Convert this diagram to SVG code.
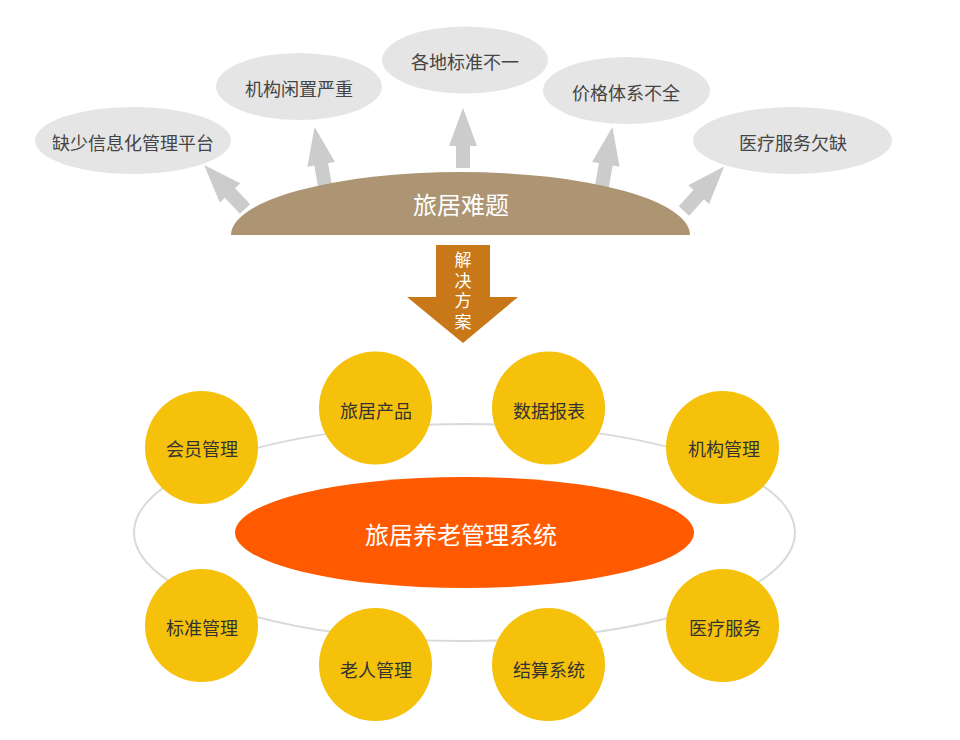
<svg xmlns="http://www.w3.org/2000/svg" width="960" height="740" viewBox="0 0 960 740">
<style>
  text { font-family: "Noto Sans CJK SC", "Liberation Sans", sans-serif; text-anchor: middle; dominant-baseline: central; }
  .bubble { fill: #e5e5e5; }
  .btext { font-size: 18px; fill: #444444; }
  .circ { fill: #f5c10a; }
  .ctext { font-size: 18px; fill: #333333; }
  .arr { fill: #cccccc; }
</style>
<defs>
  <polygon id="upArrow" points="-7,0 -7,-22 -14,-22 0,-60 14,-22 7,-22 7,0"/>
</defs>
<rect width="960" height="740" fill="#ffffff"/>

<g id="connectors">
  <use href="#upArrow" class="arr" transform="translate(245,209) rotate(-43)"/>
  <use href="#upArrow" class="arr" transform="translate(325,186) rotate(-10)"/>
  <use href="#upArrow" class="arr" transform="translate(463,168)"/>
  <use href="#upArrow" class="arr" transform="translate(602,186) rotate(10)"/>
  <use href="#upArrow" class="arr" transform="translate(684,211) rotate(42)"/>
  <g id="solution-arrow">
    <polygon points="436,245 490,245 490,297 518,297 463,343 407,297 436,297" fill="#c87818"/>
    <text x="463" y="292.5" font-size="17" fill="#ffffff" writing-mode="vertical-rl" letter-spacing="3.5">解决方案</text>
  </g>
  <ellipse cx="464.5" cy="532.5" rx="330.5" ry="108.5" fill="none" stroke="#d9d9d9" stroke-width="2"/>
</g>

<g id="problem-1"><ellipse class="bubble" cx="133" cy="140.5" rx="98" ry="33.5"/><text class="btext" x="133" y="142">缺少信息化管理平台</text></g>
<g id="problem-2"><ellipse class="bubble" cx="299" cy="86.5" rx="83" ry="33.5"/><text class="btext" x="299" y="88">机构闲置严重</text></g>
<g id="problem-3"><ellipse class="bubble" cx="465" cy="60" rx="83" ry="33.5"/><text class="btext" x="465" y="61">各地标准不一</text></g>
<g id="problem-4"><ellipse class="bubble" cx="626.5" cy="90.5" rx="83.5" ry="33.5"/><text class="btext" x="626" y="92">价格体系不全</text></g>
<g id="problem-5"><ellipse class="bubble" cx="792.5" cy="140.5" rx="99.5" ry="33.5"/><text class="btext" x="793" y="142">医疗服务欠缺</text></g>

<g id="travel-problems">
  <path d="M231,235 A229.5,63 0 0 1 690,235 Z" fill="#ad9574"/>
  <text x="461" y="203" font-size="24" fill="#ffffff">旅居难题</text>
</g>

<g id="core-system">
  <ellipse cx="464.5" cy="532.5" rx="229.5" ry="55.5" fill="#ff5a00"/>
  <text x="461" y="533" font-size="24" fill="#ffffff">旅居养老管理系统</text>
</g>

<g id="member"><circle class="circ" cx="201.5" cy="447.5" r="56.5"/><text class="ctext" x="202" y="448">会员管理</text></g>
<g id="product"><circle class="circ" cx="375.5" cy="408" r="56.5"/><text class="ctext" x="376" y="410">旅居产品</text></g>
<g id="report"><circle class="circ" cx="548.5" cy="408" r="56.5"/><text class="ctext" x="549" y="410">数据报表</text></g>
<g id="institution"><circle class="circ" cx="722.5" cy="447.5" r="56.5"/><text class="ctext" x="724" y="448">机构管理</text></g>
<g id="standard"><circle class="circ" cx="201.5" cy="625.5" r="56.5"/><text class="ctext" x="202" y="627">标准管理</text></g>
<g id="elderly"><circle class="circ" cx="375.5" cy="664.5" r="56.5"/><text class="ctext" x="376" y="669">老人管理</text></g>
<g id="settlement"><circle class="circ" cx="548.5" cy="664.5" r="56.5"/><text class="ctext" x="549" y="669">结算系统</text></g>
<g id="medical"><circle class="circ" cx="722.5" cy="625.5" r="56.5"/><text class="ctext" x="725" y="627">医疗服务</text></g>
</svg>
